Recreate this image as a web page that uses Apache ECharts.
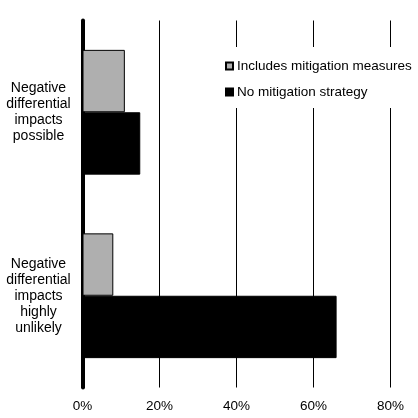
<!DOCTYPE html>
<html>
<head>
<meta charset="utf-8">
<script src="https://cdn.jsdelivr.net/npm/echarts@6/dist/echarts.min.js"></script>
<style>
html,body{margin:0;padding:0;background:#fff;}
#c{width:418px;height:418px;}
</style>
</head>
<body>
<div id="c"></div>
<script>
var categories = ['Negative\ndifferential\nimpacts\npossible', 'Negative\ndifferential\nimpacts\nhighly\nunlikely'];
var seriesNames = ['Includes mitigation measures', 'No mitigation strategy'];
var withMitigation = [11, 8];
var noMitigation = [15, 66];
var xTicks = [0, 20, 40, 60, 80];

var FONT = '"Liberation Sans", Arial, sans-serif';
var chart = echarts.init(document.getElementById('c'), null, {renderer: 'canvas'});
chart.setOption({
  animation: false,
  backgroundColor: '#fff',
  grid: {left: 82.5, right: 27.5, top: 20.5, bottom: 30.5, containLabel: false},
  legend: {
    orient: 'vertical',
    left: 221,
    top: 47,
    backgroundColor: '#fff',
    padding: [12, 5, 9, 4],
    itemWidth: 7,
    itemHeight: 7,
    itemGap: 12,
    icon: 'rect',
    textStyle: {fontFamily: FONT, fontSize: 13.5, color: '#000', padding: [0, 0, 0, -1]},
    data: seriesNames
  },
  xAxis: {
    type: 'value',
    min: xTicks[0],
    max: xTicks[xTicks.length - 1],
    interval: 20,
    axisLine: {show: false},
    axisTick: {show: false},
    axisLabel: {
      fontFamily: FONT, fontSize: 13.5, color: '#000', margin: 12,
      formatter: function (v) { return v + '%'; }
    },
    splitLine: {show: true, lineStyle: {color: '#000', width: 1}}
  },
  yAxis: {
    type: 'category',
    data: categories,
    inverse: true,
    axisLine: {show: true, lineStyle: {color: '#000', width: 4}},
    axisTick: {show: false},
    axisLabel: {
      fontFamily: FONT, fontSize: 14, color: '#000', align: 'center',
      margin: 44, lineHeight: 16
    }
  },
  series: [
    {
      name: seriesNames[0], type: 'bar', data: withMitigation,
      barGap: '0%', barCategoryGap: '32%',
      itemStyle: {color: '#afafaf', borderColor: '#000', borderWidth: 1}
    },
    {
      name: seriesNames[1], type: 'bar', data: noMitigation,
      barGap: '0%', barCategoryGap: '32%',
      itemStyle: {color: '#000', borderColor: '#000', borderWidth: 1}
    }
  ]
});
</script>
</body>
</html>
